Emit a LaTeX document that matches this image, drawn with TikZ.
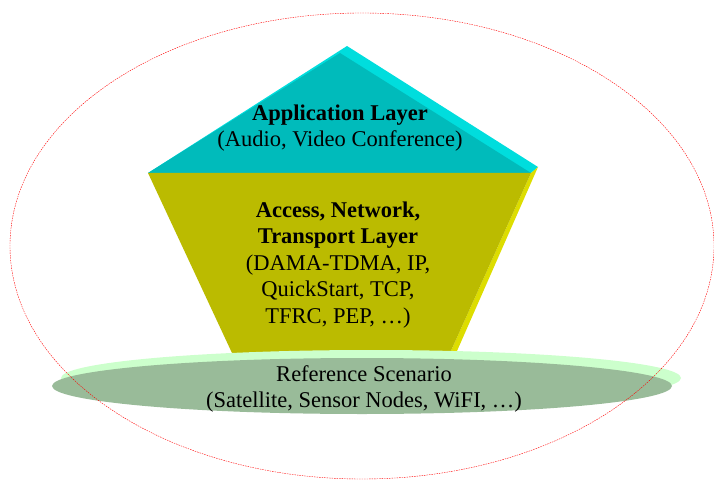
\documentclass[tikz,border=0pt]{standalone}
\usepackage{fontspec}
\setmainfont{Liberation Serif}
\definecolor{cyandark}{RGB}{0,187,187}
\definecolor{cyanlight}{RGB}{0,221,221}
\definecolor{olivedark}{RGB}{187,187,0}
\definecolor{olivelight}{RGB}{221,221,0}
\definecolor{greendark}{RGB}{153,187,153}
\definecolor{greenlight}{RGB}{204,255,204}
\begin{document}
\begin{tikzpicture}[x=1pt,y=-1pt,
  lbl/.style={align=center, font=\fontsize{22.5}{26.5}\selectfont, inner sep=0pt},
  outerring/.style={red, line width=0.4pt, dash pattern=on 1.5pt off 1pt}]
\useasboundingbox (0,0) rectangle (714,481);
% application layer (triangle)
\fill[cyanlight] (347,46) -- (538,167) -- (531,173) -- (148,173) -- cycle;
\fill[cyandark] (340,53) -- (531,173) -- (148,173) -- cycle;
% access/network/transport layer (trapezoid)
\fill[olivelight] (531,173) -- (538,167) -- (457,351) -- (450,353) -- cycle;
\fill[olivedark] (148,173) -- (531,173) -- (450,353) -- (232,353) -- cycle;
% reference scenario disc
\fill[greenlight] (371,378) ellipse [x radius=310pt, y radius=28pt];
\fill[greendark] (362,386) ellipse [x radius=310pt, y radius=28pt];
% texts
\node[lbl] (app) at (340,128) {\textbf{Application Layer}\\(Audio, Video Conference)};
\node[lbl] (ant) at (338,265) {\textbf{Access, Network,}\\\textbf{Transport Layer}\\(DAMA-TDMA, IP,\\QuickStart, TCP,\\TFRC, PEP, \dots)};
\node[lbl] (ref) at (364,389) {Reference Scenario\\(Satellite, Sensor Nodes, WiFI, \dots)};
% outer dashed ellipse
\draw[outerring] (362,246) ellipse [x radius=352pt, y radius=233pt];
\end{tikzpicture}
\end{document}
